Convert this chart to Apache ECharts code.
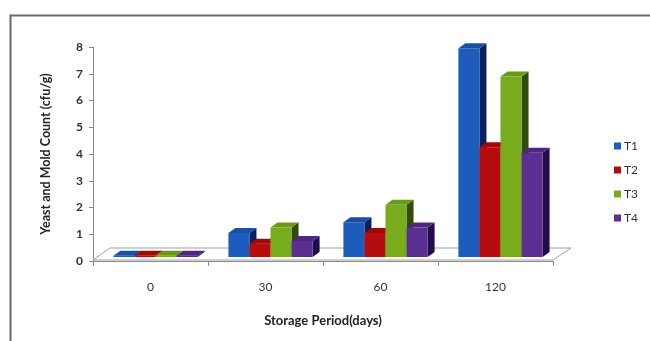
<!DOCTYPE html>
<html><head><meta charset="utf-8">
<script src="https://cdn.jsdelivr.net/npm/echarts@6/dist/echarts.min.js"></script>
<style>html,body{margin:0;padding:0;background:#fff}#c{width:650px;height:341px}</style>
</head><body><div id="c"></div>
<script>
const categories = ['0', '30', '60', '120'];
const seriesNames = ['T1', 'T2', 'T3', 'T4'];
const T1 = [0.05, 0.9, 1.3, 7.8];
const T2 = [0.05, 0.5, 0.9, 4.1];
const T3 = [0.05, 1.1, 1.95, 6.75];
const T4 = [0.05, 0.6, 1.1, 3.9];
const yTicks = [0, 1, 2, 3, 4, 5, 6, 7, 8];

const values = [T1, T2, T3, T4];
const front = ['#1d5cbc', '#b50d0d', '#79ac1c', '#5a2f90'];
const topC  = ['#1a4fa6', '#9c0a0a', '#6a9a15', '#4d2780'];
const side  = ['#0b1e5e', '#5c0202', '#2f4d06', '#220d4a'];
const FONT = 'Lato, "Liberation Sans", sans-serif';
const DX = 7, DY = -5, LIFT = 4;

function barRender(si) {
  return function (params, api) {
    const ci = api.value(0), v = api.value(1);
    const base = api.coord([ci, 0]);
    const top = api.coord([ci, v]);
    const cw = api.size([1, 0])[0];
    const bw = cw * 0.183;
    const x0 = base[0] - 2 * bw + 5 + si * bw;
    const yb = base[1] - LIFT, yt = top[1] - LIFT;
    return {
      type: 'group',
      children: [
        { type: 'polygon', shape: { points: [[x0 + bw, yt], [x0 + bw + DX, yt + DY], [x0 + bw + DX, yb + DY], [x0 + bw, yb]] }, style: { fill: side[si] } },
        { type: 'polygon', shape: { points: [[x0, yt], [x0 + bw, yt], [x0 + bw + DX, yt + DY], [x0 + DX, yt + DY]] }, style: { fill: topC[si] } },
        { type: 'rect', shape: { x: x0, y: yt, width: bw, height: yb - yt }, style: { fill: front[si] } }
      ]
    };
  };
}

const series = [{
  type: 'custom',
  silent: true,
  data: [[0, 0]],
  renderItem: function (params, api) {
    const cw = api.size([1, 0])[0];
    const p = api.coord([0, 0]);
    const xl = p[0] - cw / 2, xr = xl + cw * categories.length, y = p[1] - 1;
    return {
      type: 'polygon',
      shape: { points: [[xl, y], [xr, y], [xr + 18, y - 12], [xl + 17, y - 12]] },
      style: { fill: '#fff', stroke: '#a0a0a0', lineWidth: 1 }
    };
  },
  z: 1
}];
seriesNames.forEach((n, si) => {
  series.push({
    name: n,
    type: 'custom',
    itemStyle: { color: front[si] },
    data: values[si].map((v, i) => [i, v]),
    renderItem: barRender(si),
    z: 2
  });
});

const chart = echarts.init(document.getElementById('c'));
chart.setOption({
  animation: false,
  backgroundColor: '#fff',
  textStyle: { fontFamily: FONT },
  graphic: [{
    type: 'rect', left: 8, top: 13, shape: { width: 700, height: 400 },
    style: { fill: 'none', stroke: '#6a6a6a', lineWidth: 2 }, silent: true
  }],
  grid: { left: 93, right: 97, top: 47, bottom: 80 },
  legend: {
    data: seriesNames, orient: 'vertical', left: 609, top: 135,
    itemWidth: 7, itemHeight: 7, itemGap: 12, icon: 'rect',
    textStyle: { fontFamily: FONT, fontSize: 12, color: '#333', padding: [0, 0, 0, -2] }
  },
  xAxis: {
    type: 'category', data: categories,
    name: 'Storage Period(days)', nameLocation: 'middle', nameGap: 53,
    nameTextStyle: { fontFamily: FONT, fontSize: 13, fontWeight: 'bold', color: '#222' },
    axisLine: { lineStyle: { color: '#8a8a8a' } },
    axisTick: { show: true, length: 5, lineStyle: { color: '#8a8a8a' } },
    axisLabel: { fontFamily: FONT, fontSize: 12, color: '#333', margin: 20 }
  },
  yAxis: {
    type: 'value', min: 0, max: 8, interval: 1,
    name: 'Yeast and Mold Count (cfu/g)', nameLocation: 'middle', nameGap: 41,
    nameTextStyle: { fontFamily: FONT, fontSize: 12.5, fontWeight: 'bold', color: '#222' },
    axisLine: { show: true, lineStyle: { color: '#8a8a8a' } },
    axisTick: { show: true, length: 4, lineStyle: { color: '#8a8a8a' } },
    axisLabel: { fontFamily: FONT, fontSize: 12, fontWeight: 'bold', color: '#333', margin: 10,
      formatter: v => yTicks.includes(v) ? String(v) : '' },
    splitLine: { show: false }
  },
  series: series
});
</script>
</body></html>
